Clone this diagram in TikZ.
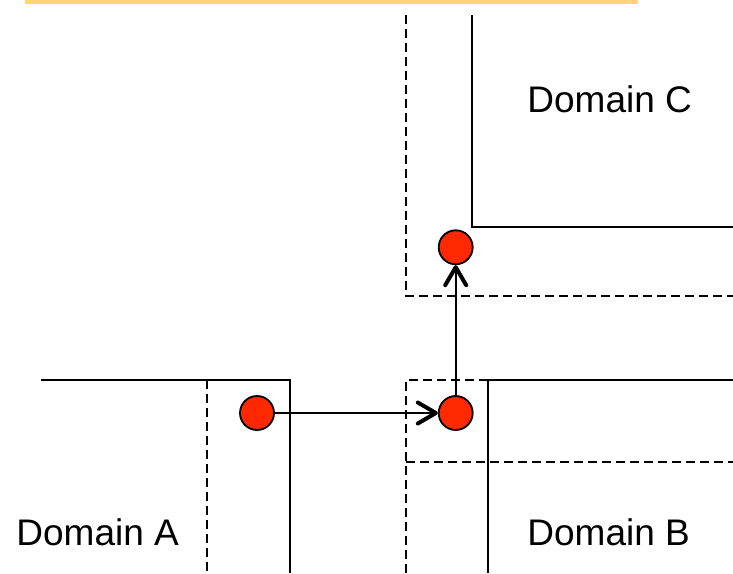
\documentclass[tikz,border=0pt]{standalone}
\usepackage{fontspec}
\setmainfont{Liberation Sans}
\usetikzlibrary{arrows.meta}
\definecolor{barcol}{RGB}{255,212,122}
\definecolor{dotred}{RGB}{255,40,0}
\begin{document}
\begin{tikzpicture}[x=0.5pt,y=-0.5pt,
  wall/.style={line width=0.9pt,line join=miter},
  halo/.style={line width=1.1pt,dash pattern=on 4.5pt off 2.5pt},
  dot/.style={circle,draw=black,line width=0.9pt,fill=dotred,minimum size=17pt,inner sep=0pt},
  hop/.style={line width=0.9pt,-{Straight Barb[length=9pt,width=10.5pt,line width=2pt,round]}},
  label/.style={anchor=base west,font=\fontsize{18.5}{22}\selectfont,inner sep=0pt}]
\useasboundingbox (0,0) rectangle (733,573);
% top bar
\fill[barcol] (25,0) rectangle (638,4);
% Domain C
\draw[wall] (472,15) -- (472,227) -- (733,227);
\draw[halo] (406,15) -- (406,296) -- (733,296);
% Domain A
\draw[wall] (41,380) -- (290,380) -- (290,573);
\draw[halo] (207,380) -- (207,573);
% Domain B
\draw[wall] (733,380) -- (488,380) -- (488,573);
\draw[halo] (488,380) -- (406,380) -- (406,573);
\draw[halo] (406,462) -- (733,462);
% dots
\node[dot] (a) at (257,413) {};
\node[dot] (b) at (455.7,413) {};
\node[dot] (c) at (455.7,247.3) {};
\draw[hop] (a) -- (b);
\draw[hop] (b) -- (c);
% labels
\node[label] (la) at (16,545) {Domain A};
\node[label] (lb) at (527,545) {Domain B};
\node[label] (lc) at (527,112.7) {Domain C};
\end{tikzpicture}
\end{document}
